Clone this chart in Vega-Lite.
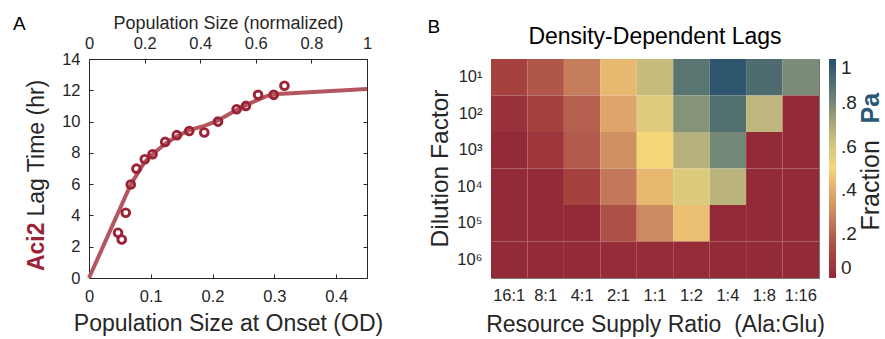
{
  "$schema": "https://vega.github.io/schema/vega-lite/v6.json",
  "padding": {"left": 12, "top": 13, "right": 0, "bottom": 0},
  "spacing": 42,
  "resolve": {"scale": {"color": "independent"}, "legend": {"color": "independent"}},
  "config": {
    "font": "Liberation Sans",
    "view": {"stroke": null},
    "axis": {"grid": false, "labelFlush": false, "labelColor": "#262626", "titleColor": "#262626", "tickColor": "#262626", "domainColor": "#262626", "labelFont": "Liberation Sans", "titleFont": "Liberation Sans", "titleFontWeight": "normal"},
    "title": {"font": "Liberation Sans", "fontWeight": "normal", "color": "#000000"},
    "legend": {"labelFont": "Liberation Sans"}
  },
  "hconcat": [
    {
      "width": 278,
      "height": 219,
      "view": {"stroke": "#262626", "strokeWidth": 1},
      "title": {"text": "A", "anchor": "start", "frame": "group", "dx": -76, "dy": 20, "fontSize": 19, "offset": 0},
      "layer": [
        {
          "data": {"values": [
            {"od": 0, "lag": 0}, {"od": 0.0676, "lag": 5.98}, {"od": 0.0892, "lag": 7.37}, {"od": 0.1028, "lag": 7.91},
            {"od": 0.1244, "lag": 8.61}, {"od": 0.1433, "lag": 9.08}, {"od": 0.1623, "lag": 9.45}, {"od": 0.1866, "lag": 9.73},
            {"od": 0.2082, "lag": 10.05}, {"od": 0.2391, "lag": 10.75}, {"od": 0.2542, "lag": 11.05}, {"od": 0.2731, "lag": 11.39},
            {"od": 0.2894, "lag": 11.65}, {"od": 0.3056, "lag": 11.76}, {"od": 0.45, "lag": 12.08}
          ]},
          "mark": {"type": "line", "color": "#b3565f", "strokeWidth": 4},
          "encoding": {
            "x": {"field": "od", "type": "quantitative", "scale": {"domain": [0, 0.45], "nice": false},
              "axis": {"orient": "top", "values": [0, 0.09, 0.18, 0.27, 0.36, 0.45], "labelExpr": "format(datum.value / 0.45, '.1~f')",
                "title": "Population Size (normalized)", "titleFontSize": 18, "labelFontSize": 16.5, "tickSize": -4, "labelPadding": 12, "domain": false, "titlePadding": 3}},
            "y": {"field": "lag", "type": "quantitative", "scale": {"domain": [0, 14], "nice": false},
              "axis": {"orient": "left", "title": "Aci2", "titleColor": "#9b2335", "titleFontWeight": "bold", "titleFontSize": 23,
                "labels": false, "ticks": false, "domain": false, "titleAngle": 270, "titleX": -46, "titleY": 163, "titleAlign": "right", "titleBaseline": "alphabetic"}}
          }
        },
        {
          "data": {"values": [
            {"od": 0.047, "lag": 2.89}, {"od": 0.053, "lag": 2.46}, {"od": 0.0595, "lag": 4.17}, {"od": 0.0676, "lag": 5.98},
            {"od": 0.0768, "lag": 6.99}, {"od": 0.0903, "lag": 7.59}, {"od": 0.1028, "lag": 7.91}, {"od": 0.1233, "lag": 8.7},
            {"od": 0.1422, "lag": 9.13}, {"od": 0.1623, "lag": 9.4}, {"od": 0.1866, "lag": 9.3}, {"od": 0.2088, "lag": 10.0},
            {"od": 0.239, "lag": 10.79}, {"od": 0.254, "lag": 11.0}, {"od": 0.2737, "lag": 11.71}, {"od": 0.299, "lag": 11.71},
            {"od": 0.3164, "lag": 12.29}
          ]},
          "mark": {"type": "point", "shape": "circle", "filled": false, "size": 60, "strokeWidth": 2.9, "color": "#9b2335", "opacity": 1},
          "encoding": {
            "x": {"field": "od", "type": "quantitative", "scale": {"domain": [0, 0.45], "nice": false},
              "axis": {"orient": "bottom", "values": [0, 0.1, 0.2, 0.3, 0.4], "format": "~g", "title": "Population Size at Onset (OD)", "titleFontSize": 23,
                "labelFontSize": 16.5, "tickSize": -4, "labelPadding": 14, "domain": false, "titlePadding": 8}},
            "y": {"field": "lag", "type": "quantitative", "scale": {"domain": [0, 14], "nice": false},
              "axis": {"orient": "left", "values": [0, 2, 4, 6, 8, 10, 12, 14], "title": "Lag Time (hr)", "titleFontSize": 23, "labelFontSize": 16.5,
                "tickSize": -4, "labelPadding": 13, "domain": false, "titleAngle": 270, "titleX": -46, "titleY": 157, "titleAlign": "left", "titleBaseline": "alphabetic"}}
          }
        },
        {
          "data": {"values": [{"od": 0, "lag": 0}, {"od": 0.45, "lag": 14}]},
          "mark": {"type": "point", "opacity": 0},
          "encoding": {
            "x": {"field": "od", "type": "quantitative", "axis": null},
            "y": {"field": "lag", "type": "quantitative",
              "axis": {"orient": "right", "values": [0, 2, 4, 6, 8, 10, 12, 14], "labels": false, "title": null, "tickSize": -4, "domain": false}}
          }
        }
      ],
      "resolve": {"axis": {"x": "independent", "y": "independent"}}
    },
    {
      "width": 328,
      "height": 219,
      "view": {"stroke": "#777777", "strokeWidth": 1},
      "title": {"text": "Density-Dependent Lags", "anchor": "middle", "fontSize": 23, "dy": 32, "offset": 0},
      "data": {"values": [
        {"dil": "10¹", "ratio": "16:1", "frac": 0.10}, {"dil": "10¹", "ratio": "8:1", "frac": 0.17}, {"dil": "10¹", "ratio": "4:1", "frac": 0.27},
        {"dil": "10¹", "ratio": "2:1", "frac": 0.43}, {"dil": "10¹", "ratio": "1:1", "frac": 0.64}, {"dil": "10¹", "ratio": "1:2", "frac": 0.87},
        {"dil": "10¹", "ratio": "1:4", "frac": 0.98}, {"dil": "10¹", "ratio": "1:8", "frac": 0.90}, {"dil": "10¹", "ratio": "1:16", "frac": 0.79},
        {"dil": "10²", "ratio": "16:1", "frac": 0.03}, {"dil": "10²", "ratio": "8:1", "frac": 0.09}, {"dil": "10²", "ratio": "4:1", "frac": 0.20},
        {"dil": "10²", "ratio": "2:1", "frac": 0.38}, {"dil": "10²", "ratio": "1:1", "frac": 0.57}, {"dil": "10²", "ratio": "1:2", "frac": 0.77},
        {"dil": "10²", "ratio": "1:4", "frac": 0.89}, {"dil": "10²", "ratio": "1:8", "frac": 0.66}, {"dil": "10²", "ratio": "1:16", "frac": 0.0},
        {"dil": "10³", "ratio": "16:1", "frac": 0.0}, {"dil": "10³", "ratio": "8:1", "frac": 0.05}, {"dil": "10³", "ratio": "4:1", "frac": 0.18},
        {"dil": "10³", "ratio": "2:1", "frac": 0.32}, {"dil": "10³", "ratio": "1:1", "frac": 0.50}, {"dil": "10³", "ratio": "1:2", "frac": 0.68},
        {"dil": "10³", "ratio": "1:4", "frac": 0.80}, {"dil": "10³", "ratio": "1:8", "frac": 0.0}, {"dil": "10³", "ratio": "1:16", "frac": 0.0},
        {"dil": "10⁴", "ratio": "16:1", "frac": 0.0}, {"dil": "10⁴", "ratio": "8:1", "frac": 0.0}, {"dil": "10⁴", "ratio": "4:1", "frac": 0.10},
        {"dil": "10⁴", "ratio": "2:1", "frac": 0.26}, {"dil": "10⁴", "ratio": "1:1", "frac": 0.43}, {"dil": "10⁴", "ratio": "1:2", "frac": 0.58},
        {"dil": "10⁴", "ratio": "1:4", "frac": 0.67}, {"dil": "10⁴", "ratio": "1:8", "frac": 0.0}, {"dil": "10⁴", "ratio": "1:16", "frac": 0.0},
        {"dil": "10⁵", "ratio": "16:1", "frac": 0.0}, {"dil": "10⁵", "ratio": "8:1", "frac": 0.0}, {"dil": "10⁵", "ratio": "4:1", "frac": 0.0},
        {"dil": "10⁵", "ratio": "2:1", "frac": 0.15}, {"dil": "10⁵", "ratio": "1:1", "frac": 0.30}, {"dil": "10⁵", "ratio": "1:2", "frac": 0.45},
        {"dil": "10⁵", "ratio": "1:4", "frac": 0.0}, {"dil": "10⁵", "ratio": "1:8", "frac": 0.0}, {"dil": "10⁵", "ratio": "1:16", "frac": 0.0},
        {"dil": "10⁶", "ratio": "16:1", "frac": 0.0}, {"dil": "10⁶", "ratio": "8:1", "frac": 0.0}, {"dil": "10⁶", "ratio": "4:1", "frac": 0.0},
        {"dil": "10⁶", "ratio": "2:1", "frac": 0.01}, {"dil": "10⁶", "ratio": "1:1", "frac": 0.01}, {"dil": "10⁶", "ratio": "1:2", "frac": 0.01},
        {"dil": "10⁶", "ratio": "1:4", "frac": 0.0}, {"dil": "10⁶", "ratio": "1:8", "frac": 0.0}, {"dil": "10⁶", "ratio": "1:16", "frac": 0.0}
      ]},
      "layer": [
        {
          "mark": {"type": "rect"},
          "encoding": {
            "x": {"field": "ratio", "type": "nominal", "sort": ["16:1", "8:1", "4:1", "2:1", "1:1", "1:2", "1:4", "1:8", "1:16"],
              "scale": {"paddingInner": 0, "paddingOuter": 0},
              "axis": {"title": "Resource Supply Ratio\u00a0\u00a0(Ala:Glu)", "labelAngle": 0, "labelFontSize": 16.5, "titleFontSize": 23,
                "ticks": false, "domain": false, "labelPadding": 9, "titlePadding": 10}},
            "y": {"field": "dil", "type": "nominal", "sort": ["10¹", "10²", "10³", "10⁴", "10⁵", "10⁶"],
              "scale": {"paddingInner": 0, "paddingOuter": 0},
              "axis": {"title": "Dilution Factor", "labelFontSize": 16.5, "ticks": false, "domain": false, "labelPadding": 9, "titleFontSize": 24.5,
                "titleAngle": 270, "titleX": -44, "titleY": 109, "titleAlign": "center", "titleBaseline": "alphabetic"}},
            "color": {"field": "frac", "type": "quantitative",
              "scale": {"domain": [0, 0.1, 0.2, 0.3, 0.4, 0.5, 0.6, 0.7, 0.8, 0.9, 1],
                "range": ["#932a37", "#a5423e", "#b5604f", "#cc8a60", "#e2ab6b", "#f5d57a", "#d6c77e", "#aeaa7b", "#748977", "#4e6c6f", "#26506e"],
                "interpolate": "rgb"},
              "legend": {"orient": "none", "legendX": 338, "legendY": 0, "direction": "vertical", "gradientLength": 219, "gradientThickness": 7,
                "gradientStrokeWidth": 0, "title": null, "values": [0, 0.2, 0.4, 0.6, 0.8, 1],
                "labelExpr": "datum.value == 0 ? '0' : datum.value == 1 ? '1' : '.' + format(datum.value * 10, 'd')",
                "labelFontSize": 19, "labelOffset": 5, "labelColor": "#262626", "padding": 0}}
          }
        },
        {
          "mark": {"type": "rect", "opacity": 0},
          "encoding": {
            "x": {"field": "ratio", "type": "nominal", "sort": ["16:1", "8:1", "4:1", "2:1", "1:1", "1:2", "1:4", "1:8", "1:16"], "axis": null},
            "y": {"field": "dil", "type": "nominal", "sort": ["10¹", "10²", "10³", "10⁴", "10⁵", "10⁶"],
              "axis": {"orient": "right", "title": "Fraction", "labels": false, "ticks": false, "domain": false, "titleFontSize": 25,
                "titleAngle": 270, "titleX": 59, "titleY": 171, "titleAlign": "left", "titleBaseline": "alphabetic"}}
          }
        },
        {
          "mark": {"type": "rect", "opacity": 0},
          "encoding": {
            "x": {"field": "ratio", "type": "nominal", "sort": ["16:1", "8:1", "4:1", "2:1", "1:1", "1:2", "1:4", "1:8", "1:16"],
              "axis": {"orient": "top", "title": "B", "labels": false, "ticks": false, "domain": false, "titleFontSize": 19, "titleColor": "#000000",
                "titleX": -64, "titleY": -27, "titleAlign": "left", "titleBaseline": "alphabetic", "titleAngle": 0}},
            "y": {"field": "dil", "type": "nominal", "sort": ["10¹", "10²", "10³", "10⁴", "10⁵", "10⁶"],
              "axis": {"orient": "right", "title": "Pa", "labels": false, "ticks": false, "domain": false, "titleFontSize": 25, "titleFontWeight": "bold",
                "titleColor": "#2b5877", "titleAngle": 270, "titleX": 59, "titleY": 64, "titleAlign": "left", "titleBaseline": "alphabetic"}}
          }
        }
      ],
      "resolve": {"axis": {"x": "independent", "y": "independent"}}
    }
  ]
}
